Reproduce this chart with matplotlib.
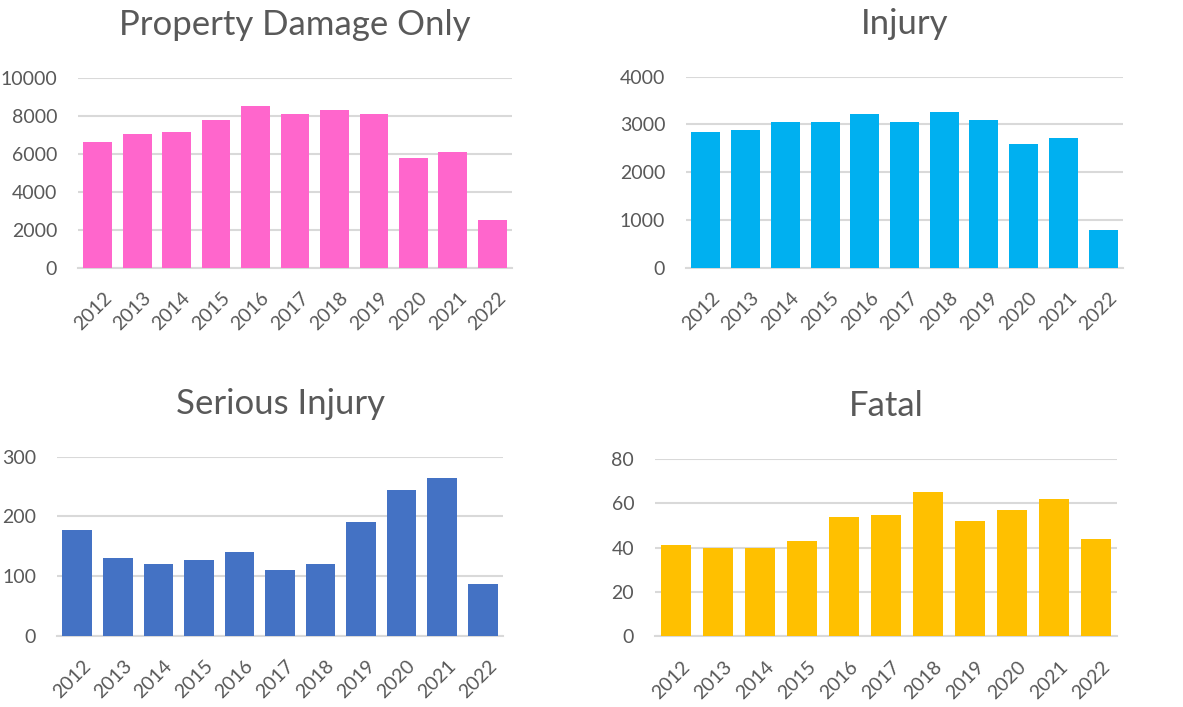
import matplotlib
matplotlib.use("Agg")
import matplotlib.pyplot as plt
import matplotlib.transforms as mtransforms

plt.rcParams['font.family'] = ['Lato', 'DejaVu Sans']

years = ["2012", "2013", "2014", "2015", "2016", "2017", "2018", "2019", "2020", "2021", "2022"]
property_damage = [6610, 7040, 7140, 7770, 8510, 8090, 8300, 8090, 5770, 6090, 2510]
injury = [2840, 2880, 3050, 3050, 3220, 3050, 3260, 3090, 2590, 2720, 790]
serious_injury = [177, 130, 120, 127, 140, 110, 120, 190, 244, 264, 87]
fatal = [41, 40, 40, 43, 54, 55, 65, 52, 57, 62, 44]

panels = [
    ("Property Damage Only", property_damage, "#FF66CC", 10000, 2000, [78, 77.7, 512, 267.7]),
    ("Injury", injury, "#00B0F0", 4000, 1000, [686, 76.7, 1123, 267.7]),
    ("Serious Injury", serious_injury, "#4472C4", 300, 100, [57, 456.7, 503, 635.7]),
    ("Fatal", fatal, "#FFC000", 80, 20, [655, 459.3, 1117, 636]),
]

W, H = 1183, 707
fig = plt.figure(figsize=(W / 100, H / 100), dpi=100)
text_color = "#595959"
grid_color = "#D9D9D9"

for title, vals, color, ymax, step, (x0, y0, x1, y1) in panels:
    ax = fig.add_axes([x0 / W, 1 - y1 / H, (x1 - x0) / W, (y1 - y0) / H])
    xs = list(range(len(years)))
    ax.bar(xs, vals, width=0.73, color=color, zorder=3)
    ax.set_xlim(-0.5, len(years) - 0.5)
    ax.set_ylim(0, ymax)
    ax.set_yticks(list(range(0, ymax + 1, step)))
    ax.yaxis.grid(True, color=grid_color, linewidth=1.5, zorder=0)
    ax.set_axisbelow(True)
    for s in ["top", "right", "left"]:
        ax.spines[s].set_visible(False)
    ax.spines["bottom"].set_color(grid_color)
    ax.spines["bottom"].set_linewidth(1.5)
    ax.tick_params(axis="both", length=0, colors=text_color, labelsize=14)
    ax.tick_params(axis="y", pad=15)
    ax.tick_params(axis="x", pad=20)
    ax.set_xticks(xs)
    ax.set_xticklabels(years, rotation=45, ha="right", va="center", rotation_mode="anchor")
    off = mtransforms.ScaledTranslation(0.11, 0, fig.dpi_scale_trans)
    for lbl in ax.get_xticklabels():
        lbl.set_transform(lbl.get_transform() + off)
    ax.set_title(title, fontsize=25, color=text_color, pad=31)

fig.savefig("out.png", dpi=100)
